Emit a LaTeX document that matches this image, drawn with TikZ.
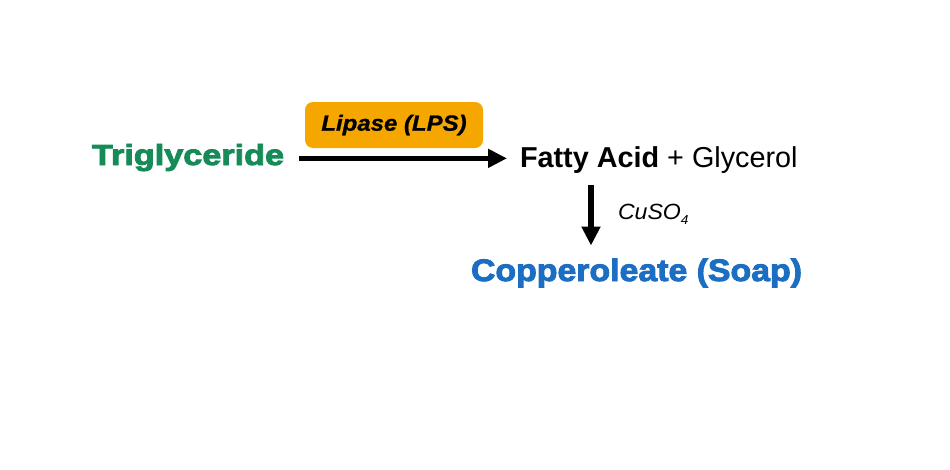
\documentclass[tikz,border=0pt]{standalone}
\usepackage{fontspec}
\setmainfont{Liberation Sans}
\newfontfamily\blkA{Liberation Sans Bold}[FakeStretch=1.18,FakeBold=3]
\newfontfamily\blkB{Liberation Sans Bold}[FakeStretch=1.092,FakeBold=3]
\newfontfamily\bitf{Liberation Sans Bold Italic}[FakeStretch=1.09,FakeBold=1]
\newfontfamily\itf{Liberation Sans Italic}[FakeStretch=1.05]
\usetikzlibrary{arrows.meta}
\definecolor{trigreen}{RGB}{22,138,87}
\definecolor{soapblue}{RGB}{28,110,194}
\definecolor{lpsorange}{RGB}{245,167,0}
\tikzset{
  txt/.style={inner sep=0pt, outer sep=0pt},
  arr/.style={line width=5.5pt, -{Triangle[length=19pt,width=18pt]}},
  enzbox/.style={fill=lpsorange, rounded corners=8pt, minimum width=178pt, minimum height=46pt, inner sep=0pt}
}
\begin{document}
\begin{tikzpicture}[x=1pt,y=-1pt]
\useasboundingbox (0,0) rectangle (950,469);
\node[txt, anchor=base west, text=trigreen] (trig) at (92,165) {\fontsize{29}{33}\blkA Triglyceride};
\node[txt, anchor=base west] (fa) at (520,167) {\fontsize{28.8}{32}\selectfont\textbf{Fatty Acid} + Glycerol};
\node[txt, anchor=base west, text=soapblue] (cop) at (471,281) {\fontsize{31}{35}\blkB Copperoleate (Soap)};
\node[enzbox] (lps) at (394,125) {\fontsize{22}{26}\bitf Lipase (LPS)};
\node[txt, anchor=base west] (cuso) at (618,219) {\fontsize{22}{26}\itf CuSO\raisebox{-5pt}{\fontsize{13}{15}\itf 4}};
\draw[arr, shorten <=15pt, shorten >=13pt] ([yshift=4pt]trig.mid east) -- ([yshift=4pt]trig.mid east -| fa.west);
\draw[arr, shorten <=12pt, shorten >=13pt] ([xshift=71pt]fa.south west) -- ([xshift=71pt]fa.south west |- cop.north);
\end{tikzpicture}
\end{document}
